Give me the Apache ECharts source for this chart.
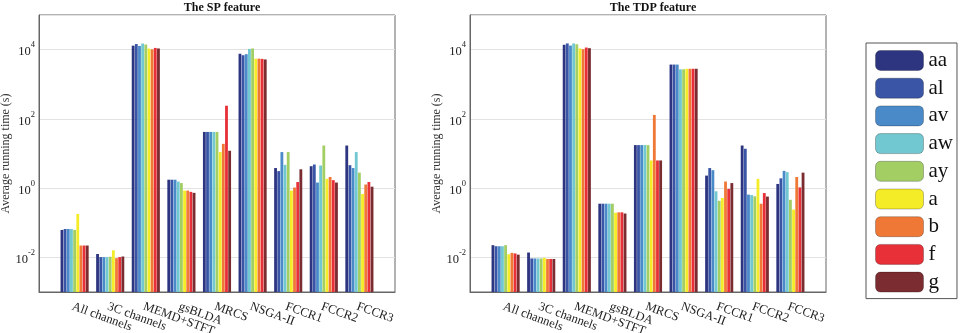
<!DOCTYPE html>
<html>
<head>
<meta charset="utf-8">
<script src="https://cdn.jsdelivr.net/npm/echarts@6/dist/echarts.min.js"></script>
<style>
  html, body { margin: 0; padding: 0; background: #fff; }
  #main { width: 964px; height: 333px; }
</style>
</head>
<body>
<div id="main"></div>
<script>
// categories (x axis) and methods (legend)
const categories = ['All channels', '3C channels', 'MEMD+STFT', 'gsBLDA', 'MRCS', 'NSGA-II', 'FCCR1', 'FCCR2', 'FCCR3'];
const methods = ['aa', 'al', 'av', 'aw', 'ay', 'a', 'b', 'f', 'g'];

// SP feature, running time (s) per method, one value per category
const sp_aa = [0.062, 0.0125, 13000, 1.75, 42, 7600, 3.8, 4.3, 17];
const sp_al = [0.066, 0.0102, 14500, 1.75, 42, 6900, 3.1, 4.8, 4.6];
const sp_av = [0.066, 0.0102, 12800, 1.75, 42, 7400, 11, 1.45, 3.8];
const sp_aw = [0.066, 0.0102, 15000, 1.55, 42, 10500, 4.7, 4.5, 11];
const sp_ay = [0.062, 0.0104, 14000, 1.4, 42, 10800, 11, 17, 2.8];
const sp_a  = [0.18, 0.016, 10700, 0.85, 11, 5500, 0.85, 1.86, 0.68];
const sp_b  = [0.022, 0.0095, 10200, 0.85, 19, 5500, 1.04, 2.1, 1.27];
const sp_f  = [0.022, 0.0102, 11200, 0.78, 240, 5400, 1.5, 1.7, 1.5];
const sp_g  = [0.022, 0.0106, 10800, 0.73, 12, 5200, 3.5, 1.45, 1.1];

// TDP feature
const tdp_aa = [0.0225, 0.0138, 13800, 0.355, 17.5, 3700, 2.3, 17, 1.32];
const tdp_al = [0.021, 0.0093, 15100, 0.355, 17.5, 3700, 3.8, 13.7, 1.92];
const tdp_av = [0.021, 0.0093, 13100, 0.355, 17.5, 3700, 3.3, 0.65, 3.15];
const tdp_aw = [0.021, 0.0093, 15100, 0.355, 17.5, 2700, 0.81, 0.63, 2.9];
const tdp_ay = [0.0225, 0.0093, 14300, 0.355, 17.5, 2700, 0.43, 0.58, 0.46];
const tdp_a  = [0.0123, 0.0097, 10800, 0.195, 6.3, 2800, 0.52, 1.85, 0.24];
const tdp_b  = [0.0135, 0.009, 10300, 0.2, 130, 2800, 1.55, 0.355, 2.1];
const tdp_f  = [0.013, 0.009, 11500, 0.2, 6.3, 2800, 0.95, 0.72, 1.05];
const tdp_g  = [0.012, 0.009, 11000, 0.185, 6.3, 2800, 1.4, 0.57, 2.8];

const spData = [sp_aa, sp_al, sp_av, sp_aw, sp_ay, sp_a, sp_b, sp_f, sp_g];
const tdpData = [tdp_aa, tdp_al, tdp_av, tdp_aw, tdp_ay, tdp_a, tdp_b, tdp_f, tdp_g];

const colors = ['#2d3580', '#3a55a5', '#4a8ac8', '#72c8d0', '#a2ce64', '#f5ec28', '#f07837', '#e83038', '#7a2c30'];
const serif = '"Liberation Serif", "DejaVu Serif", serif';

// matlab axis runs 0..10, groups at 1..9 -> pad with empty ends
const xCats = [''].concat(categories, ['']);
const pad = (arr) => [null].concat(arr, [null]);

function xAxisFor(gridIndex) {
  return {
    type: 'category',
    gridIndex: gridIndex,
    data: xCats,
    boundaryGap: false,
    axisLine: { lineStyle: { color: '#666' } },
    axisTick: { show: false },
    axisLabel: {
      interval: 0,
      rotate: -20,
      margin: 8,
      align: 'left',
      verticalAlign: 'top',
      fontFamily: serif,
      fontSize: 12.5,
      color: '#222'
    },
    splitLine: { show: false }
  };
}

function yAxisFor(gridIndex) {
  return {
    type: 'log',
    logBase: 100,
    gridIndex: gridIndex,
    min: 0.001,
    max: 100000,
    startValue: 0.001,
    name: 'Average running time (s)',
    nameLocation: 'middle',
    nameGap: 25,
    nameTextStyle: { fontFamily: serif, fontSize: 12, color: '#333' },
    axisLine: { show: true, lineStyle: { color: '#666' } },
    axisTick: { show: false },
    axisLabel: {
      showMinLabel: false,
      showMaxLabel: false,
      margin: 4,
      formatter: (v) => {
        const e = Math.round(Math.log10(v));
        return '{b|10}{e|' + e + '}';
      },
      rich: {
        b: { fontFamily: serif, fontSize: 12.5, color: '#222', lineHeight: 18, verticalAlign: 'bottom' },
        e: { fontFamily: serif, fontSize: 8.5, color: '#222', verticalAlign: 'top', lineHeight: 11 }
      }
    },
    splitLine: { show: true, lineStyle: { color: '#e2e2e2', width: 1 } }
  };
}

function seriesFor(dataList, idx) {
  return methods.map((m, i) => ({
    name: m,
    type: 'bar',
    xAxisIndex: idx,
    yAxisIndex: idx,
    data: pad(dataList[i]),
    barCategoryGap: '21%',
    barGap: '12%',
    itemStyle: { color: colors[i] },
    silent: true
  }));
}

const chart = echarts.init(document.getElementById('main'), null, { renderer: 'canvas' });
chart.setOption({
  animation: false,
  color: colors,
  title: [
    { text: 'The SP feature', left: 217, top: -3, textAlign: 'center',
      textStyle: { fontFamily: serif, fontSize: 12, fontWeight: 'bold', color: '#111' } },
    { text: 'The TDP feature', left: 648, top: -3, textAlign: 'center',
      textStyle: { fontFamily: serif, fontSize: 12, fontWeight: 'bold', color: '#111' } }
  ],
  legend: {
    data: methods,
    orient: 'vertical',
    left: 866,
    top: 43,
    padding: [7, 4, 6, 9],
    itemWidth: 48,
    itemHeight: 20,
    itemGap: 6.7,
    borderColor: '#555',
    borderWidth: 1,
    itemStyle: { borderColor: 'rgba(0,0,0,0.25)', borderWidth: 1 },
    textStyle: { fontFamily: serif, fontSize: 21, color: '#111' },
    selectedMode: false
  },
  grid: [
    { left: 39, right: 569, top: 15, bottom: 41, outerBoundsMode: 'none', containLabel: false,
      show: true, borderColor: '#666', borderWidth: 1 },
    { left: 470, right: 138, top: 15, bottom: 41, outerBoundsMode: 'none', containLabel: false,
      show: true, borderColor: '#666', borderWidth: 1 }
  ],
  xAxis: [xAxisFor(0), xAxisFor(1)],
  yAxis: [yAxisFor(0), yAxisFor(1)],
  series: seriesFor(spData, 0).concat(seriesFor(tdpData, 1))
});
</script>
</body>
</html>
